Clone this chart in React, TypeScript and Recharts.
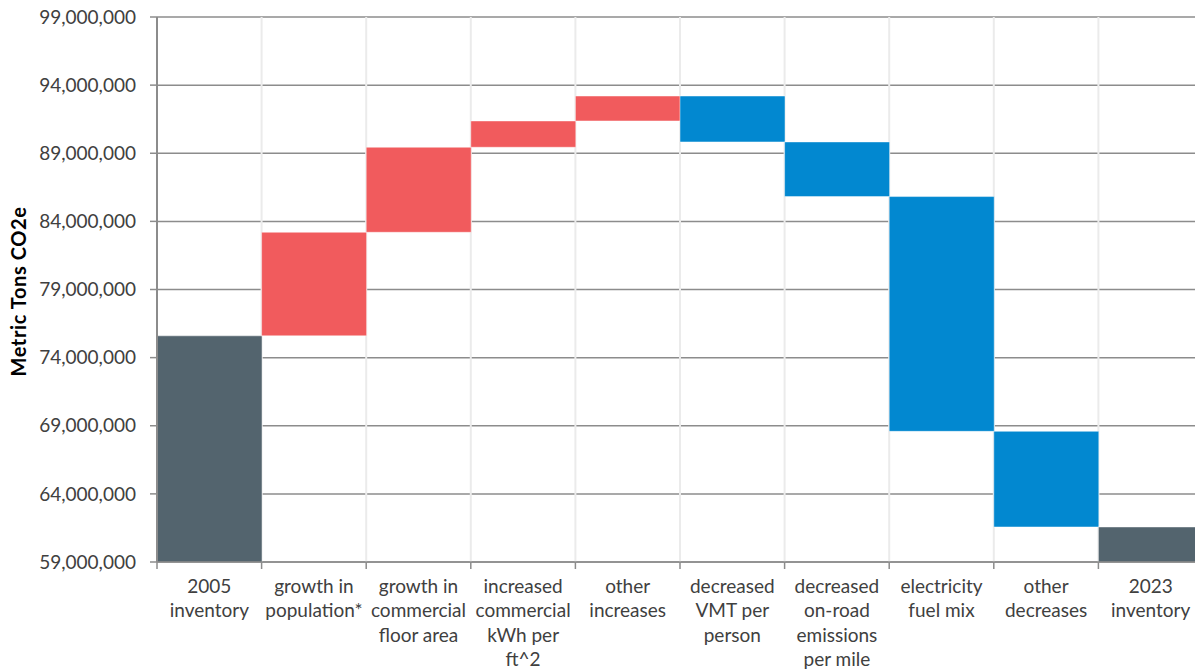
import React from "react";
import { BarChart, Bar, XAxis, YAxis, CartesianGrid, Cell, Label } from "recharts";

// categories (x axis), "\n" splits the label lines
const categories = [
  "2005\ninventory",
  "growth in\npopulation*",
  "growth in\ncommercial\nfloor area",
  "increased\ncommercial\nkWh per\nft^2",
  "other\nincreases",
  "decreased\nVMT per\nperson",
  "decreased\non-road\nemissions\nper mile",
  "electricity\nfuel mix",
  "other\ndecreases",
  "2023\ninventory",
];

// metric tons CO2e
const startTotal = 75600000;
const steps = [7600000, 6240000, 1930000, 1830000, -3370000, -4010000, -17230000, -7020000];

const yTicks = [59000000, 64000000, 69000000, 74000000, 79000000, 84000000, 89000000, 94000000, 99000000];

const COLORS = { total: "#53646e", increase: "#f15b5d", decrease: "#0288d0" };
const FONT = "Lato, 'Open Sans', sans-serif";

const W = 1203;
const H = 669;
const MARGIN = { top: 17, right: 0, bottom: 7, left: 0 };
const YAXIS_W = 157;
const XAXIS_H = 100;
const PLOT_BOTTOM = H - MARGIN.bottom - XAXIS_H;
const BAND = (W - MARGIN.left - MARGIN.right - YAXIS_W) / categories.length;

// waterfall: each bar is a [low, high] range
let running = startTotal;
const data = [{ name: categories[0], kind: "total", range: [0, startTotal] }];
steps.forEach((d, i) => {
  const next = running + d;
  data.push({
    name: categories[i + 1],
    kind: d >= 0 ? "increase" : "decrease",
    range: [Math.min(running, next), Math.max(running, next)],
  });
  running = next;
});
data.push({ name: categories[categories.length - 1], kind: "total", range: [0, running] });

function XTick(props: any) {
  const { x, payload } = props;
  const lines = String(payload.value).split("\n");
  const half = BAND / 2;
  const isLast = payload.index === categories.length - 1;
  return (
    <g>
      <line x1={x - half} y1={PLOT_BOTTOM} x2={x - half} y2={PLOT_BOTTOM + 7} stroke="#8c8c8c" strokeWidth={1.5} />
      {isLast && (
        <line x1={x + half} y1={PLOT_BOTTOM} x2={x + half} y2={PLOT_BOTTOM + 7} stroke="#8c8c8c" strokeWidth={1.5} />
      )}
      <text textAnchor="middle" fill="#404040" fontSize={19} fontFamily={FONT}>
        {lines.map((l, i) => (
          <tspan key={i} x={x} y={PLOT_BOTTOM + 31 + i * 24.4}>
            {l}
          </tspan>
        ))}
      </text>
    </g>
  );
}

export default function App() {
  return (
    <div
      style={{
        position: "fixed",
        top: 0,
        left: 0,
        width: 1195,
        height: 669,
        overflow: "hidden",
        background: "#fff",
      }}
    >
      <BarChart width={W} height={H} data={data} margin={MARGIN} barCategoryGap={0}>
        <CartesianGrid horizontal vertical={false} stroke="#8c8c8c" strokeWidth={1.5} />
        <CartesianGrid
          horizontal={false}
          vertical
          stroke="#ebebeb"
          strokeWidth={2}
          verticalCoordinatesGenerator={({ offset }: any) =>
            Array.from({ length: categories.length + 1 }, (_, i) => offset.left + (i * offset.width) / categories.length)
          }
        />
        <XAxis
          dataKey="name"
          interval={0}
          height={XAXIS_H}
          tickLine={false}
          axisLine={{ stroke: "#8c8c8c", strokeWidth: 1.5 }}
          tick={<XTick />}
        />
        <YAxis
          width={YAXIS_W}
          domain={[59000000, 99000000]}
          ticks={yTicks}
          allowDataOverflow
          tickFormatter={(v: number) => v.toLocaleString("en-US")}
          tick={{ fill: "#404040", fontSize: 19, fontFamily: FONT }}
          tickSize={7}
          tickMargin={14}
          tickLine={{ stroke: "#8c8c8c", strokeWidth: 1.5 }}
          axisLine={{ stroke: "#8c8c8c", strokeWidth: 2 }}
        >
          <Label
            value="Metric Tons CO2e"
            angle={-90}
            position="insideLeft"
            offset={19}
            dy={2}
            style={{
              textAnchor: "middle",
              fontWeight: 700,
              fontSize: 20,
              letterSpacing: 0.6,
              fontFamily: FONT,
              fill: "#000",
            }}
          />
        </YAxis>
        <Bar dataKey="range" isAnimationActive={false} stroke="#ffffff" strokeOpacity={0.45} strokeWidth={1}>
          {data.map((d, i) => (
            <Cell key={i} fill={COLORS[d.kind as keyof typeof COLORS]} />
          ))}
        </Bar>
      </BarChart>
    </div>
  );
}
